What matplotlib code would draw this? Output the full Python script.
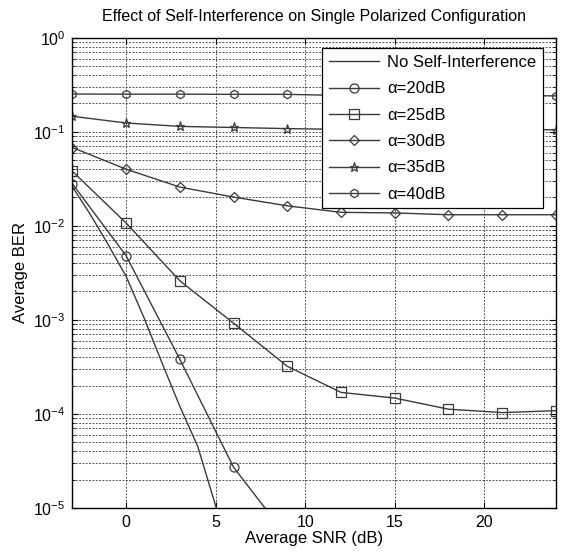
import matplotlib

matplotlib.use("Agg")
import matplotlib.pyplot as plt
from matplotlib.ticker import LogLocator, NullFormatter

plt.rcParams["font.family"] = ["Liberation Sans", "DejaVu Sans"]
plt.rcParams["mathtext.fontset"] = "custom"
plt.rcParams["mathtext.rm"] = "Liberation Sans"

# no self-interference curve (1 dB steps)
snr_fine = [-3, -2, -1, 0, 1, 2, 3, 4, 5, 6]
ber_no_si = [0.026, 1.32e-2, 6.3e-3, 2.9e-3, 1.05e-3, 3.5e-4, 1.2e-4, 4.5e-5, 1.05e-5, 1.6e-6]

# alpha curves, sampled every 3 dB
snr = [-3, 0, 3, 6, 9, 12, 15, 18, 21, 24]
ber_20 = [0.028, 4.8e-3, 3.8e-4, 2.7e-5, 4.9e-6, 1e-6, 2e-7, 4e-8, 1e-8, 3e-9]
ber_25 = [0.038, 1.07e-2, 2.6e-3, 9.2e-4, 3.2e-4, 1.69e-4, 1.47e-4, 1.12e-4, 1.03e-4, 1.08e-4]
ber_30 = [0.068, 0.040, 0.0258, 0.0202, 0.0163, 0.0139, 0.0137, 0.0131, 0.0131, 0.0131]
ber_35 = [0.146, 0.124, 0.114, 0.111, 0.108, 0.106, 0.105, 0.105, 0.105, 0.105]
ber_40 = [0.252, 0.251, 0.251, 0.250, 0.250, 0.243, 0.241, 0.241, 0.241, 0.241]

labels = ["No Self-Interference", "α=20dB", "α=25dB", "α=30dB", "α=35dB", "α=40dB"]
markers = ["o", "s", "D", "*", "h"]
sizes = [6.5, 7, 5.5, 6.5, 6]

fig = plt.figure(figsize=(5.61, 5.55), dpi=100)
ax = fig.add_axes([0.129, 0.085, 0.862, 0.847])

line_color = "#3a3a3a"
ax.semilogy(snr_fine, ber_no_si, color=line_color, lw=1.0, label=labels[0])
for y, m, ms, lab in zip([ber_20, ber_25, ber_30, ber_35, ber_40], markers, sizes, labels[1:]):
    ax.semilogy(snr, y, color=line_color, lw=1.0, marker=m, ms=ms,
                mfc="none", mec=line_color, mew=0.9, label=lab)

ax.set_xlim(-3, 24)
ax.set_ylim(1e-5, 1)
ax.set_xticks([0, 5, 10, 15, 20])
ax.yaxis.set_major_locator(LogLocator(base=10, numticks=10))
ax.yaxis.set_minor_locator(LogLocator(base=10, subs=range(2, 10), numticks=10))
ax.yaxis.set_minor_formatter(NullFormatter())

grid_kw = dict(color="#333333", linestyle=(0, (2.2, 1.8)), linewidth=0.6)
ax.grid(True, which="major", axis="both", **grid_kw)
ax.grid(True, which="minor", axis="y", **grid_kw)

ax.tick_params(which="both", direction="in", top=True, right=True, labelsize=11.5)
ax.tick_params(which="major", length=4, pad=5)
ax.tick_params(which="minor", length=2)
for s in ax.spines.values():
    s.set_linewidth(1.0)
    s.set_color("black")

ax.set_title("Effect of Self-Interference on Single Polarized Configuration",
             fontsize=11.5, pad=12)
ax.set_xlabel("Average SNR (dB)", fontsize=12, labelpad=1)
ax.set_ylabel("Average BER", fontsize=12, labelpad=4)

leg = ax.legend(loc="upper right", bbox_to_anchor=(0.99, 0.995), fontsize=12,
                fancybox=False, framealpha=1, edgecolor="black",
                handlelength=3.0, labelspacing=0.68, borderpad=0.4,
                handletextpad=0.5)
leg.get_frame().set_linewidth(0.9)

fig.savefig("out.png", dpi=100)
plt.close(fig)
